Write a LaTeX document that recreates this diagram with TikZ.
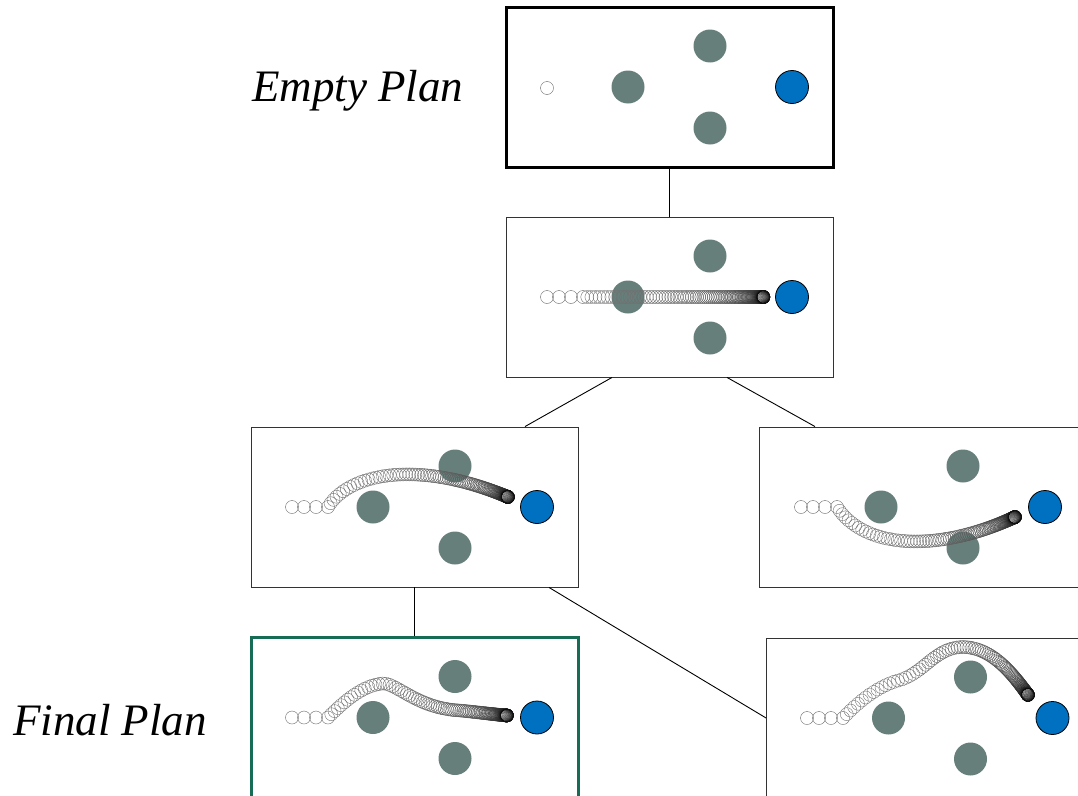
\documentclass[tikz,border=0pt]{standalone}
\usepackage{fontspec}
\setmainfont{Liberation Serif}
\usetikzlibrary{decorations.markings}
\definecolor{obst}{RGB}{103,127,123}
\definecolor{goalc}{RGB}{0,112,192}
\definecolor{finalg}{RGB}{22,108,84}
\tikzset{
  plan/.style={draw=black!80, line width=0.9pt, minimum width=327pt, minimum height=160pt, inner sep=0pt, fill=white},
  edge/.style={draw=black, line width=0.9pt},
  traj/.style={draw=black!60, line width=0.4pt},
  lbl/.style={font=\fontsize{45}{50}\selectfont\itshape, inner sep=0pt, anchor=base west}
}
\newcommand\scenecontent{%
  \fill[obst] (-41.5,0) circle[radius=16.5pt];
  \fill[obst] (40.5,-41) circle[radius=16.5pt];
  \fill[obst] (40.5,41) circle[radius=16.5pt];
  \draw[fill=goalc, line width=0.8pt] (122.5,0) circle[radius=16.5pt];
}
\newcommand\startcircles[1]{%
  \foreach \d in {0,12,24,36}{\draw[traj] (#1+\d,0) circle[radius=6.5pt];}
}
\newcommand\trajmarks[2]{%
  \foreach \k in {1,...,#2}{%
    \pgfmathsetmacro\p{min(0.9995,1-(1-\k/#2)^2.6)}%
    \pgfmathtruncatemacro\c{55+40*(\k/#2)^1.5}%
    \path[decorate,decoration={markings,mark=at position \p with {\draw[traj, draw=black!\c] (0,0) circle[radius=6.5pt];}}] #1;
  }%
}
\begin{document}
\begin{tikzpicture}[x=1pt,y=-1pt]
\useasboundingbox (0,0) rectangle (1078,795);
\clip (0,0) rectangle (1078,795);
\fill[white] (0,0) rectangle (1078,795);

% boxes
\node[plan, draw=black, line width=3pt] (A) at (669.5,87) {};
\node[plan] (B) at (669.5,297) {};
\node[plan] (C) at (414.5,507) {};
\node[plan] (D) at (922.5,507) {};
\node[plan, draw=finalg, line width=3pt] (E) at (414.5,717.5) {};
\node[plan] (F) at (930,718) {};

% connectors
\draw[edge] (A.south) -- (B.north);
\draw[edge] ([xshift=-57.5pt]B.south) -- ([xshift=110.5pt]C.north);
\draw[edge] ([xshift=57.5pt]B.south) -- ([xshift=-107.5pt]D.north);
\draw[edge] (C.south) -- (E.north);
\draw[edge] ([xshift=134.5pt]C.south) -- (F.west);

% A: empty plan
\begin{scope}[shift={(A.center)}]
  \scenecontent
  \draw[traj] (-122.5,1) circle[radius=6.5pt];
\end{scope}

% B
\begin{scope}[shift={(B.center)}]
  \scenecontent
  \startcircles{-122.5}
  \trajmarks{(-86.5,0) -- (94,0)}{110}
\end{scope}

% C
\begin{scope}[shift={(C.center)}]
  \scenecontent
  \startcircles{-122.5}
  \trajmarks{(-86.5,0) .. controls (-64.5,-35) and (5.5,-47) .. (93.5,-10)}{110}
\end{scope}

% D
\begin{scope}[shift={(D.center)}]
  \scenecontent
  \startcircles{-121.5}
  \trajmarks{(-85.5,0) .. controls (-57.5,43) and (17.5,45) .. (92.5,10)}{110}
\end{scope}

% E
\begin{scope}[shift={(E.center)}]
  \scenecontent
  \startcircles{-122.5}
  \trajmarks{(-86.5,0) .. controls (-69.5,-17) and (-49.5,-34) .. (-29.5,-34) .. controls (-14.5,-31) and (5.5,-9) .. (45.5,-7) .. controls (65.5,-5) and (80.5,-3) .. (92.5,-2)}{110}
\end{scope}

% F
\begin{scope}[shift={(F.center)}]
  \scenecontent
  \startcircles{-123}
  \trajmarks{(-87,0) .. controls (-70,-18) and (-50,-33) .. (-30,-38) .. controls (-5,-46) and (5,-70) .. (32,-71) .. controls (60,-71) and (80,-48) .. (98,-23)}{110}
\end{scope}

% labels
\node[lbl] (emptylbl) at (252,101.7) {Empty Plan};
\node[lbl] (finallbl) at (13,735) {Final Plan};
\end{tikzpicture}
\end{document}
